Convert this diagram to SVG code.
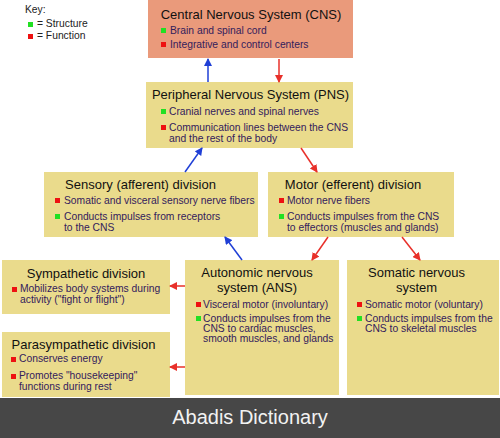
<svg xmlns="http://www.w3.org/2000/svg" width="500" height="438" viewBox="0 0 500 438">
<style>
.box{fill:#EADB8C}
.cns{fill:#EA9A7B}
.t{font-family:"Liberation Sans",Arial,sans-serif;font-size:13px;fill:#111;text-anchor:middle}
.b{font-family:"Liberation Sans",Arial,sans-serif;font-size:10.3px;fill:#33205c}
.k{font-family:"Liberation Sans",Arial,sans-serif;font-size:10.3px;fill:#222}
.g{fill:#22e022}
.r{fill:#ee1111}
.ab{stroke:#1f3fd6;stroke-width:1.5;fill:none}
.ar{stroke:#e8302a;stroke-width:1.5;fill:none}
</style>
<defs>
<marker id="mb" markerWidth="8" markerHeight="8" refX="7" refY="4" orient="auto" markerUnits="userSpaceOnUse"><path d="M0,0 L8,4 L0,8 Z" fill="#1f3fd6"/></marker>
<marker id="mr" markerWidth="8" markerHeight="8" refX="7" refY="4" orient="auto" markerUnits="userSpaceOnUse"><path d="M0,0 L8,4 L0,8 Z" fill="#e8302a"/></marker>
</defs>
<rect width="500" height="438" fill="#fff"/>
<g id="key">
<text class="k" x="25" y="13">Key:</text>
<rect class="g" x="28" y="22" width="5" height="5"/>
<text class="k" x="37" y="27">= Structure</text>
<rect class="r" x="28" y="34" width="5" height="5"/>
<text class="k" x="37" y="39">= Function</text>
</g>
<g id="cns">
<rect class="cns" x="148" y="0" width="205" height="58"/>
<text class="t" x="251" y="19">Central Nervous System (CNS)</text>
<rect class="g" x="161" y="28" width="5" height="5"/>
<text class="b" x="170" y="34">Brain and spinal cord</text>
<rect class="r" x="161" y="42" width="5" height="5"/>
<text class="b" x="170" y="48">Integrative and control centers</text>
</g>
<g id="pns">
<rect class="box" x="146" y="82" width="207" height="66"/>
<text class="t" x="250.5" y="99">Peripheral Nervous System (PNS)</text>
<rect class="g" x="161" y="109" width="5" height="5"/>
<text class="b" x="169" y="115">Cranial nerves and spinal nerves</text>
<rect class="r" x="161" y="125" width="5" height="5"/>
<text class="b" x="169" y="131">Communication lines between the CNS</text>
<text class="b" x="169" y="141.5">and the rest of the body</text>
</g>
<g id="sensory">
<rect class="box" x="44" y="172" width="214" height="65"/>
<text class="t" x="140.5" y="189">Sensory (afferent) division</text>
<rect class="r" x="55" y="198" width="5" height="5"/>
<text class="b" x="64" y="204">Somatic and visceral sensory nerve fibers</text>
<rect class="g" x="55" y="214" width="5" height="5"/>
<text class="b" x="64" y="220">Conducts impulses from receptors</text>
<text class="b" x="64" y="230.5">to the CNS</text>
</g>
<g id="motor">
<rect class="box" x="268" y="172" width="186" height="65"/>
<text class="t" x="353" y="189">Motor (efferent) division</text>
<rect class="r" x="279" y="198" width="5" height="5"/>
<text class="b" x="287" y="204">Motor nerve fibers</text>
<rect class="g" x="279" y="214" width="5" height="5"/>
<text class="b" x="287" y="220">Conducts impulses from the CNS</text>
<text class="b" x="287" y="230.5">to effectors (muscles and glands)</text>
</g>
<g id="sympathetic">
<rect class="box" x="2" y="260" width="168" height="54"/>
<text class="t" x="86" y="278">Sympathetic division</text>
<rect class="r" x="12" y="287" width="5" height="5"/>
<text class="b" x="20" y="292">Mobilizes body systems during</text>
<text class="b" x="20" y="302.5">activity ("fight or flight")</text>
</g>
<g id="ans">
<rect class="box" x="185" y="260" width="154" height="135"/>
<text class="t" x="257" y="276.5">Autonomic nervous</text>
<text class="t" x="257" y="291.5">system (ANS)</text>
<rect class="r" x="196" y="302" width="5" height="5"/>
<text class="b" x="203" y="308">Visceral motor (involuntary)</text>
<rect class="g" x="196" y="316" width="5" height="5"/>
<text class="b" x="203" y="322">Conducts impulses from the</text>
<text class="b" x="203" y="332">CNS to cardiac muscles,</text>
<text class="b" x="203" y="342">smooth muscles, and glands</text>
</g>
<g id="somatic">
<rect class="box" x="347" y="260" width="152" height="135"/>
<text class="t" x="416.5" y="276.5">Somatic nervous</text>
<text class="t" x="416.5" y="291.5">system</text>
<rect class="r" x="357" y="302" width="5" height="5"/>
<text class="b" x="365" y="308">Somatic motor (voluntary)</text>
<rect class="g" x="357" y="316" width="5" height="5"/>
<text class="b" x="365" y="322">Conducts impulses from the</text>
<text class="b" x="365" y="332">CNS to skeletal muscles</text>
</g>
<g id="parasympathetic">
<rect class="box" x="2" y="332" width="168" height="65"/>
<text class="t" x="83.5" y="349">Parasympathetic division</text>
<rect class="r" x="11" y="357" width="5" height="5"/>
<text class="b" x="19" y="362">Conserves energy</text>
<rect class="r" x="11" y="374" width="5" height="5"/>
<text class="b" x="19" y="379">Promotes "housekeeping"</text>
<text class="b" x="19" y="389.5">functions during rest</text>
</g>
<g id="connectors">
<line class="ab" x1="208" y1="82" x2="208" y2="59" marker-end="url(#mb)"/>
<line class="ar" x1="279" y1="59" x2="279" y2="82" marker-end="url(#mr)"/>
<line class="ab" x1="185" y1="172" x2="202" y2="148" marker-end="url(#mb)"/>
<line class="ar" x1="301" y1="148" x2="317" y2="172" marker-end="url(#mr)"/>
<line class="ab" x1="242" y1="260" x2="225" y2="237" marker-end="url(#mb)"/>
<line class="ar" x1="328" y1="237" x2="312" y2="260" marker-end="url(#mr)"/>
<line class="ar" x1="402" y1="237" x2="420" y2="260" marker-end="url(#mr)"/>
<line class="ar" x1="185" y1="286" x2="170" y2="286" marker-end="url(#mr)"/>
<line class="ar" x1="185" y1="367" x2="170" y2="367" marker-end="url(#mr)"/>
</g>
<g id="footer">
<rect x="0" y="398" width="500" height="40" fill="#474747"/>
<text x="250" y="424" font-family="'Liberation Sans',Arial,sans-serif" font-size="20" fill="#f2f2f2" text-anchor="middle">Abadis Dictionary</text>
</g>
</svg>
